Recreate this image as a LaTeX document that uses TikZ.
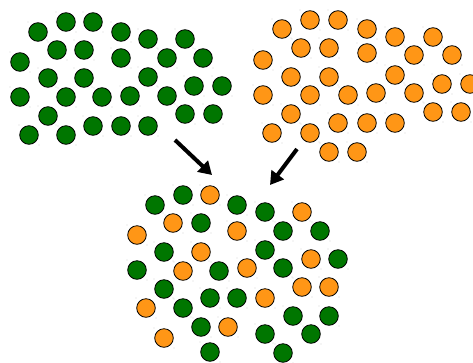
\documentclass[tikz,border=0pt]{standalone}
\usetikzlibrary{arrows.meta}
\definecolor{ballgreen}{RGB}{0,118,0}
\definecolor{ballorange}{RGB}{255,150,22}

\begin{document}
\begin{tikzpicture}[x=1pt,y=-1pt]
            \tikzset{ball/.style={draw, circle, draw=black, line width=0.8pt, minimum size=18.6pt, inner sep=0pt, fill=#1}};
            \tikzset{speck/.style={fill=gray, circle, inner sep=0pt, minimum size=0.9pt}};
            \tikzset{mix arrow/.style={line width=4pt, -{Triangle[length=13pt,width=15pt]}}};
            \useasboundingbox (0,0) rectangle (473,362);
            
            % green set
            \foreach [count=\i] \p in {(38,32),(66,22),(93,22),(121,32),(148,39),(185,39),(57,50),(84,50),(121,58),(167,58),(203,58),(20,62),(48,78),(84,78),(148,77),(194,86),(222,86),(20,97),(66,97),(102,97),(130,96),(167,96),(48,116),(185,114),(213,114),(29,135),(66,135),(93,126),(121,126),(148,126)} {
                \node[ball=ballgreen] (g\i) at \p {};
                \node[speck] at ([shift={(-10,-10)}]g\i.center) {};
                \node[speck] at ([shift={(10,10)}]g\i.center) {};
            }
            
            % orange set
            \foreach [count=\i] \p in {(282,29),(310,20),(338,20),(367,29),(395,37),(433,37),(301,48),(329,48),(367,53),(414,55),(452,55),(263,60),(291,77),(329,77),(395,75),(442,84),(470,84),(263,95),(310,95),(348,95),(376,93),(414,93),(291,114),(433,112),(461,112),(272,133),(310,133),(338,123),(367,123),(395,123),(329,152),(357,152)} {
                \node[ball=ballorange] (o\i) at \p {};
                \node[speck] at ([shift={(-10,-10)}]o\i.center) {};
                \node[speck] at ([shift={(10,10)}]o\i.center) {};
            }
            
            % mixed set
            \foreach [count=\i] \p/\c in {(155,205)/ballgreen,(183,195)/ballgreen,(210,195)/ballorange,(237,205)/ballgreen,(265,212)/ballgreen,(302,212)/ballorange,(173,223)/ballorange,(201,223)/ballgreen,(237,231)/ballorange,(283,231)/ballgreen,(320,231)/ballgreen,(137,235)/ballorange,(164,252)/ballgreen,(201,252)/ballorange,(265,250)/ballgreen,(311,259)/ballorange,(338,259)/ballgreen,(137,270)/ballgreen,(183,271)/ballorange,(219,271)/ballgreen,(247,268)/ballorange,(283,268)/ballgreen,(164,289)/ballgreen,(302,287)/ballorange,(329,287)/ballorange,(146,308)/ballorange,(183,308)/ballgreen,(210,298)/ballgreen,(237,298)/ballgreen,(265,298)/ballorange,(293,316)/ballgreen,(329,316)/ballgreen,(201,327)/ballgreen,(228,327)/ballorange,(164,338)/ballorange,(210,352)/ballgreen,(265,334)/ballgreen,(311,334)/ballgreen,(283,353)/ballgreen} {
                \node[ball=\c] (m\i) at \p {};
                \node[speck] at ([shift={(-10,-10)}]m\i.center) {};
                \node[speck] at ([shift={(10,10)}]m\i.center) {};
            }
            
            \coordinate (a1) at (175,140);
            \coordinate (b1) at (212,175);
            \coordinate (a2) at (297,149);
            \coordinate (b2) at (270,185);
            
            \draw[mix arrow] (a1)--(b1);
            \draw[mix arrow] (a2)--(b2);
        \end{tikzpicture}
\end{document}
